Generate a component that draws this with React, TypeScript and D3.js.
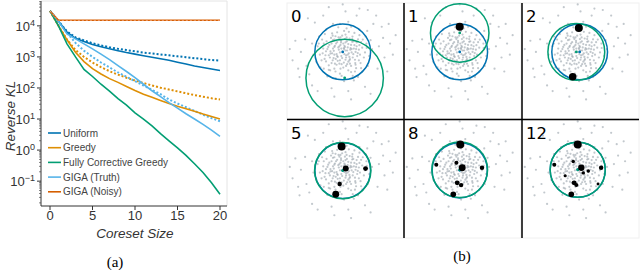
import React from "react";
import * as d3 from "d3";

// ---- panel (a): reverse KL vs coreset size (log10 values)
const sizes = d3.range(0, 21);
const seriesNames = ["Uniform", "Greedy", "Fully Corrective Greedy", "GIGA (Truth)", "GIGA (Noisy)"];
const seriesColors = ["#0173b2", "#de8f05", "#029e73", "#56b4e9", "#d55e00"];

const uniformLog = [4.48, 4.15, 3.8, 3.6, 3.5, 3.4, 3.33, 3.26, 3.2, 3.14, 3.09, 3.04, 2.99, 2.94, 2.89, 2.83, 2.77, 2.71, 2.66, 2.61, 2.56];
const uniformDotLog = [4.48, 4.15, 3.82, 3.63, 3.53, 3.44, 3.37, 3.31, 3.26, 3.22, 3.18, 3.14, 3.11, 3.08, 3.05, 3.02, 2.99, 2.96, 2.93, 2.9, 2.88];
const greedyLog = [4.48, 4.0, 3.55, 3.15, 2.85, 2.62, 2.45, 2.3, 2.18, 2.05, 1.92, 1.8, 1.7, 1.6, 1.5, 1.41, 1.33, 1.25, 1.16, 1.08, 1.0];
const greedyDotLog = [4.48, 4.0, 3.56, 3.22, 3.0, 2.82, 2.67, 2.54, 2.43, 2.33, 2.24, 2.16, 2.08, 2.01, 1.95, 1.89, 1.83, 1.77, 1.72, 1.67, 1.63];
const fcgLog = [4.48, 4.0, 3.42, 3.0, 2.6, 2.37, 2.12, 1.9, 1.66, 1.45, 1.2, 1.0, 0.78, 0.53, 0.3, 0.07, -0.17, -0.44, -0.72, -1.05, -1.42];
const gigaTruthLog = [4.48, 4.15, 3.74, 3.58, 3.42, 3.26, 3.09, 2.91, 2.72, 2.53, 2.33, 2.12, 1.91, 1.72, 1.53, 1.35, 1.17, 1.0, 0.83, 0.64, 0.44];
const gigaTruthDotLog = [4.48, 4.15, 3.78, 3.45, 3.2, 3.0, 2.82, 2.66, 2.5, 2.36, 2.22, 2.08, 1.94, 1.8, 1.63, 1.5, 1.38, 1.26, 1.14, 1.03, 0.93];
const gigaNoisyLog = [4.48, 4.18, 4.18, 4.18, 4.18, 4.18, 4.18, 4.18, 4.18, 4.18, 4.18, 4.18, 4.18, 4.18, 4.18, 4.18, 4.18, 4.18, 4.18, 4.18, 4.18];

const xTicks = [0, 5, 10, 15, 20];
const yExps = [-1, 0, 1, 2, 3, 4];

// ---- panel (b): data cloud (shared), circles and coreset points per step
const cellLabels = ["0", "1", "2", "5", "8", "12"];
const cloud = [
  [0.05, 0.1], [-0.12, 0.2], [0.22, -0.05], [-0.3, -0.1], [0.1, -0.28], [-0.05, -0.15], [0.3, 0.25], [-0.2, 0.35], [0.15, 0.38], [-0.35, 0.12],
  [0.36, -0.2], [-0.18, -0.32], [0.02, 0.3], [0.27, 0.08], [-0.1, -0.02], [0.12, -0.12], [-0.25, -0.25], [0.2, -0.35], [-0.38, -0.05], [0.08, 0.18],
  [-0.14, 0.08], [0.32, -0.02], [-0.06, 0.4], [0.18, 0.16], [-0.28, 0.22], [0.04, -0.38], [-0.33, -0.22], [0.26, -0.26], [-0.02, -0.22], [0.4, 0.12],
  [0.0, 0.0], [0.16, 0.05], [-0.08, 0.25], [0.24, -0.18], [-0.22, -0.08], [0.06, -0.08], [-0.16, 0.16], [0.34, 0.36], [-0.4, 0.3], [0.44, -0.28],
  [-0.28, -0.42], [0.14, 0.52], [-0.04, -0.44], [0.58, 0.08], [-0.62, -0.12], [0.3, -0.5], [-0.44, 0.02], [0.08, 0.46], [0.5, 0.34], [-0.26, 0.56],
  [0.1, 0.05], [-0.05, 0.12], [0.18, -0.1], [-0.2, -0.15], [0.06, 0.22], [-0.1, -0.3], [0.28, 0.14], [-0.32, 0.04], [0.12, -0.2], [-0.06, 0.34],
  [0.2, 0.28], [-0.24, 0.3], [0.38, -0.08], [-0.36, -0.3], [0.16, -0.44], [-0.12, 0.46], [0.42, 0.24], [-0.46, -0.2], [0.24, -0.3], [-0.3, 0.44],
  [0.32, 0.1], [-0.12, -0.42], [0.04, 0.14], [-0.3, 0.18], [0.48, 0.1], [-0.44, -0.06], [0.1, 0.34], [-0.18, -0.18], [0.26, -0.42], [-0.08, 0.52],
  [0.54, -0.04], [-0.52, 0.18], [0.34, 0.46], [-0.4, -0.4], [0.02, -0.56], [-0.02, 0.58], [0.6, 0.24], [-0.6, -0.34], [0.46, -0.46], [-0.36, 0.58],
  [0.5, 0.2], [-0.55, 0.1], [0.45, -0.4], [-0.42, 0.5], [0.1, 0.62], [-0.08, -0.6], [0.62, -0.1], [-0.65, -0.25], [0.35, 0.55], [-0.3, -0.6],
  [0.55, 0.45], [-0.58, 0.38], [0.2, -0.66], [-0.2, 0.7], [0.7, 0.15], [-0.72, -0.05], [0.48, -0.58], [-0.5, -0.48], [0.05, 0.75], [-0.1, -0.78],
  [0.66, 0.35], [-0.68, 0.3], [0.3, -0.72], [-0.38, 0.66], [0.76, -0.2], [-0.76, -0.3], [0.42, 0.68], [-0.45, -0.66], [0.58, -0.3], [-0.6, 0.02],
  [0.25, 0.48], [-0.48, 0.25], [0.46, 0.0], [-0.22, -0.46], [0.12, -0.5], [-0.5, -0.12], [0.38, 0.38], [-0.35, 0.42], [0.52, -0.15], [-0.15, 0.52],
  [0.64, -0.4], [-0.7, 0.12], [0.22, 0.72], [-0.26, -0.7], [0.72, 0.44], [-0.74, 0.44], [0.44, -0.7], [-0.5, -0.64], [0.8, -0.02], [-0.82, -0.1],
  [0.14, 0.84], [-0.04, -0.86], [0.6, 0.6], [-0.64, 0.64], [0.66, -0.58], [-0.68, -0.6], [0.86, 0.14], [-0.86, 0.3], [0.36, -0.86], [-0.16, 0.88],
  [0.85, 0.3], [-0.9, 0.2], [0.3, 0.9], [-0.25, -0.95], [0.95, -0.15], [-0.8, -0.55], [0.6, 0.8], [-0.6, 0.8], [0.7, -0.7], [-0.1, 1.0],
  [0.05, -1.05], [1.05, 0.1], [-1.05, -0.1], [0.82, 0.55], [-0.85, 0.55], [0.55, -0.9], [-0.55, -0.88], [0.9, -0.5], [-0.95, -0.35], [0.2, 1.08],
  [-0.35, 1.0], [1.0, 0.42], [-1.1, 0.3], [0.4, -1.02], [0.88, 0.75],
  [1.3, 0.2], [-1.35, 0.45], [0.5, 1.3], [-0.4, -1.3], [1.25, -0.6], [-1.2, -0.8], [1.45, 0.5], [-1.5, 0.0], [0.1, 1.45], [0.2, -1.4],
  [1.1, 1.0], [-1.0, 1.05], [1.5, -0.2], [-1.3, -0.5], [0.8, -1.25], [-0.7, 1.3], [1.7, 0.3], [-1.7, 0.4], [0.6, 1.55], [-0.3, -1.6],
  [1.6, -0.7], [-1.55, -0.9], [1.2, 1.3], [-1.25, 1.2], [1.8, -0.1], [-0.9, -1.4], [0.9, 1.5], [0.3, -1.7], [-1.8, -0.3], [1.4, 0.9],
  [1.9, 0.6], [-1.9, 0.1], [1.0, -1.5], [-1.1, -1.2], [0.0, 1.7], [-0.5, 1.6], [1.65, 1.0], [-1.6, -0.6],
];
// [cx, cy, r] in data units
const uniformCircles = [[0, 0, 1.0], [0, 0, 1.0], [0.07, 0, 1.0], [0, -0.03, 1.0], [0, -0.02, 0.99], [0, 0, 0.99]];
const gigaCircles = [[0.07, -0.93, 1.39], [0, 0.68, 1.05], [-0.05, 0, 1.02], [0, -0.03, 1.01], [0, 0, 1.0], [0, 0, 0.99]];
// [x, y, weight]
const coresets = [
  [],
  [[0, 0.9, 16]],
  [[0.04, 0.86, 16], [-0.18, -0.89, 14]],
  [[-0.04, 0.82, 16], [0.11, 0.04, 9], [0.82, 0.04, 6], [-0.11, -0.5, 5], [-0.25, -0.86, 12]],
  [[0.02, 0.89, 16], [-0.12, 0.25, 4], [0.09, 0.07, 12], [0.8, 0.07, 5], [-0.09, -0.46, 6], [0.05, -0.54, 5], [-0.23, -0.86, 8], [-0.84, 0.18, 4]],
  [[0, 0.89, 16], [-0.84, 0.18, 4], [-0.16, 0.29, 3], [0.13, 0.07, 10], [0.38, -0.04, 3], [0.2, -0.11, 3], [0.84, 0.07, 5], [-0.45, -0.21, 2.5],
    [-0.13, -0.46, 6], [-0.05, -0.54, 4], [-0.23, -0.86, 8], [0.73, -0.5, 2.2]],
];

const W = 640;
const H = 270;
const sans = "'Liberation Sans', Arial, sans-serif";

function PanelA() {
  const left = 41, right = 227, top = 1, bottom = 206;
  const x = d3.scaleLinear().domain([0, 20]).range([50, 220]);
  const y = d3.scaleLog().domain([Math.pow(10, -1.8), Math.pow(10, 4.8)]).range([bottom, top]);
  const line = d3.line<number>().x((_, i) => x(sizes[i])).y((v) => y(Math.pow(10, v)));

  const minor: number[] = [];
  for (let e = -2; e <= 4; e++) for (let k = 2; k <= 9; k++) {
    const v = k * Math.pow(10, e);
    if (v > y.domain()[0] && v < y.domain()[1]) minor.push(v);
  }

  const dotted = [
    { d: uniformDotLog, c: seriesColors[0] },
    { d: greedyDotLog, c: seriesColors[1] },
    { d: gigaTruthDotLog, c: seriesColors[3] },
  ];
  const solid = [
    { d: uniformLog, c: seriesColors[0] },
    { d: greedyLog, c: seriesColors[1] },
    { d: fcgLog, c: seriesColors[2] },
    { d: gigaTruthLog, c: seriesColors[3] },
    { d: gigaNoisyLog, c: seriesColors[4] },
  ];

  return (
    <g fontFamily={sans}>
      <line x1={left} x2={right} y1={top} y2={top} stroke="#e4e4e4" />
      <line x1={right} x2={right} y1={top} y2={bottom} stroke="#e4e4e4" />
      {dotted.map((s, i) => (
        <path key={"d" + i} d={line(s.d) || ""} fill="none" stroke={s.c} strokeWidth={2} strokeDasharray="2,2" />
      ))}
      {solid.map((s, i) => (
        <path key={"s" + i} d={line(s.d) || ""} fill="none" stroke={s.c} strokeWidth={1.6} />
      ))}
      <path d={line(gigaNoisyLog) || ""} fill="none" stroke="#f2a57e" strokeWidth={1} strokeDasharray="2,2" />
      <line x1={left} x2={left} y1={top} y2={bottom} stroke="#333" strokeWidth={1} />
      <line x1={left} x2={right} y1={bottom} y2={bottom} stroke="#333" strokeWidth={1} />
      {minor.map((v, i) => (
        <line key={"m" + i} x1={left - 2} x2={left} y1={y(v)} y2={y(v)} stroke="#333" strokeWidth={0.6} />
      ))}
      {yExps.map((e) => (
        <g key={"y" + e}>
          <line x1={left - 4} x2={left} y1={y(Math.pow(10, e))} y2={y(Math.pow(10, e))} stroke="#333" />
          <text x={35} y={y(Math.pow(10, e)) + 5} textAnchor="end" fontSize={13} fill="#333">
            10<tspan fontSize={9} dy={-5}>{e < 0 ? "\u2212" + Math.abs(e) : e}</tspan>
          </text>
        </g>
      ))}
      {xTicks.map((t) => (
        <g key={"x" + t}>
          <line x1={x(t)} x2={x(t)} y1={bottom} y2={bottom + 4} stroke="#333" />
          <text x={x(t)} y={bottom + 14} textAnchor="middle" fontSize={13} fill="#333">{t}</text>
        </g>
      ))}
      <text x={135} y={238} textAnchor="middle" fontSize={13.5} fontStyle="italic" fill="#333">Coreset Size</text>
      <text transform="translate(15,116) rotate(-90)" textAnchor="middle" fontSize={13.5} fontStyle="italic" fill="#333">Reverse KL</text>
      {seriesNames.map((n, i) => (
        <g key={n} transform={`translate(48,${133 + i * 14.7})`}>
          <line x1={0} x2={13} y1={0} y2={0} stroke={seriesColors[i]} strokeWidth={1.6} />
          <text x={15} y={3.5} fontSize={10} fill="#444">{n}</text>
        </g>
      ))}
      <text x={115} y={267} textAnchor="middle" fontFamily="'Liberation Serif', serif" fontSize={15}>(a)</text>
    </g>
  );
}

function Cell({ i }: { i: number }) {
  const col = i % 3, row = Math.floor(i / 3);
  const cx0 = [287, 404, 522][col];
  const cy0 = [3, 120][row];
  const ch = [116, 118][row];
  const sx = d3.scaleLinear().domain([-2.0, 2.2]).range([cx0, cx0 + 117]);
  const sy = d3.scaleLinear().domain([-2.4, 1.75]).range([cy0 + ch, cy0]);
  const rs = d3.scaleSqrt().domain([0, 16]).range([0, 4]);
  const k = sx(1) - sx(0);
  const u = uniformCircles[i], g = gigaCircles[i];
  return (
    <g>
      <rect x={cx0} y={cy0} width={117} height={ch} fill="#fff" stroke="#f0f0f0" />
      {cloud.map((p, j) => (
        <circle key={j} cx={sx(p[0])} cy={sy(p[1])} r={1.1} fill="#9aa3ac" opacity={0.6} />
      ))}
      <circle cx={sx(u[0])} cy={sy(u[1])} r={u[2] * k} fill="none" stroke={seriesColors[0]} strokeWidth={1.5} />
      <circle cx={sx(g[0])} cy={sy(g[1])} r={g[2] * k} fill="none" stroke={seriesColors[2]} strokeWidth={1.5} />
      <circle cx={sx(u[0])} cy={sy(u[1])} r={1.4} fill={seriesColors[0]} />
      <circle cx={sx(g[0])} cy={sy(g[1])} r={1.4} fill={seriesColors[2]} />
      {coresets[i].map((p, j) => (
        <circle key={"c" + j} cx={sx(p[0])} cy={sy(p[1])} r={rs(p[2])} fill="#000" />
      ))}
      <text x={cx0 + 4} y={cy0 + 19} fontFamily="'DejaVu Sans', sans-serif" fontSize={16.5}>{cellLabels[i]}</text>
    </g>
  );
}

function PanelB() {
  return (
    <g>
      {cellLabels.map((_, i) => <Cell key={i} i={i} />)}
      <line x1={404} x2={404} y1={3} y2={238} stroke="#000" strokeWidth={1.5} />
      <line x1={522} x2={522} y1={3} y2={238} stroke="#000" strokeWidth={1.5} />
      <line x1={287} x2={639} y1={119.5} y2={119.5} stroke="#000" strokeWidth={1.5} />
      <text x={462} y={261} textAnchor="middle" fontFamily="'Liberation Serif', serif" fontSize={15}>(b)</text>
    </g>
  );
}

export default function App() {
  return (
    <svg width={W} height={H} viewBox={`0 0 ${W} ${H}`} style={{ position: "absolute", left: 0, top: 0, background: "#fff" }}>
      <PanelA />
      <PanelB />
    </svg>
  );
}
